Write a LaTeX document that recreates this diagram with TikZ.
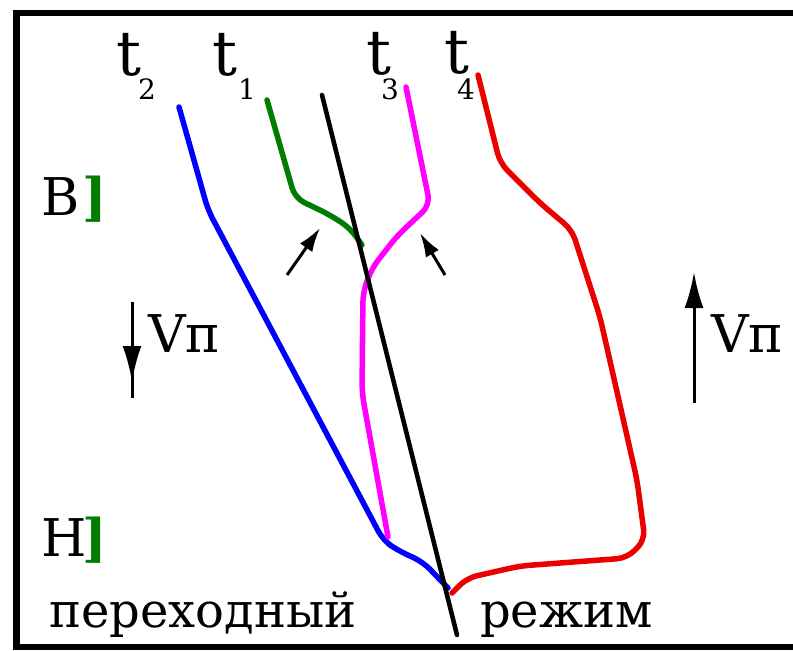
\documentclass[tikz,border=0pt]{standalone}
\usepackage{fontspec}
\setmainfont{DejaVu Serif}
\usetikzlibrary{arrows.meta}
\definecolor{grn}{RGB}{0,125,0}
\definecolor{mag}{RGB}{255,0,255}
\definecolor{rd}{RGB}{235,0,0}
\newcommand{\bigfont}{\fontsize{52}{52}\selectfont}

\begin{document}
\begin{tikzpicture}[x=1pt, y=-1pt,
  curve/.style={line width=5.5, line join=round, line cap=round, rounded corners=10},
  txt/.style={anchor=base west, inner sep=0, font=\bigfont},
  word/.style={anchor=base west, inner sep=0, font=\fontsize{48}{48}\selectfont},
  tlbl/.style={anchor=base west, inner sep=0, font=\fontsize{62}{62}\selectfont},
  sublbl/.style={anchor=base west, inner sep=0, font=\fontsize{28}{28}\selectfont},
  brk/.style={anchor=base west, inner sep=0, text=grn, font=\bigfont\bfseries},
  pointer/.style={line width=3, -{Latex[length=24,width=15]}},
  vel/.style={line width=3, -{Latex[length=36,width=19]}}
]
\useasboundingbox (0,0) rectangle (793,651);
% frame
\draw[line width=6.5] (793,13) -- (16.5,13) -- (16.5,647) -- (793,647);

% time labels
\node[tlbl] (t2) at (116,75) {t};
\node[sublbl] (s2) at (138,99) {2};
\node[tlbl] (t1) at (212,75) {t};
\node[sublbl] (s1) at (238,99) {1};
\node[tlbl] (t3) at (366,74) {t};
\node[sublbl] (s3) at (381,99) {3};
\node[tlbl] (t4) at (444,73) {t};
\node[sublbl] (s4) at (457,99) {4};

% zone labels
\node[txt] (top) at (41,215) {В};
\node[brk] (topbr) at (82,215) {]};
\node[txt] (bot) at (41,556) {Н};
\node[brk] (botbr) at (82,556) {]};
\node[word] (trans) at (49,627) {переходный};
\node[word] (mode) at (480,627) {режим};

% velocity arrows
\coordinate (dtop) at (132,302);
\coordinate (dtip) at (132,382);
\coordinate (dbot) at (132,398);
\draw[line width=3] (dtop) -- (dbot);
\draw[vel] (dtop) -- (dtip);
\node[txt] (vdown) at (148,352) {Vп};
\coordinate (ubot) at (694,403);
\coordinate (utip) at (694,272);
\draw[vel] (ubot) -- (utip);
\node[txt] (vup) at (711,352) {Vп};

% curves
\draw[curve, blue] (179,107) -- (208,210) -- (383,540) -- (397,550) -- (423,562) -- (448,588);
\draw[curve, grn] (267,100) -- (295,198) -- (330,215) -- (350,228) -- (362,245);
\draw[curve, mag] (406,87) -- (430,205) -- (397,236) -- (372,268) -- (363,292) -- (362,393) -- (388,537);
\draw[curve, rd] (478,75) -- (500,163) -- (540,203) -- (572,230) -- (600,317) -- (637,480) -- (645,540) -- (627,558) -- (520,566) -- (467,578) -- (452,593);
\draw[line width=4.5, line cap=round] (322,95) -- (457,635);

% pointers
\coordinate (p1s) at (287,275);
\coordinate (p1e) at (320,228);
\coordinate (p2s) at (445,275);
\coordinate (p2e) at (420,233);
\draw[pointer] (p1s) -- (p1e);
\draw[pointer] (p2s) -- (p2e);
\end{tikzpicture}
\end{document}
